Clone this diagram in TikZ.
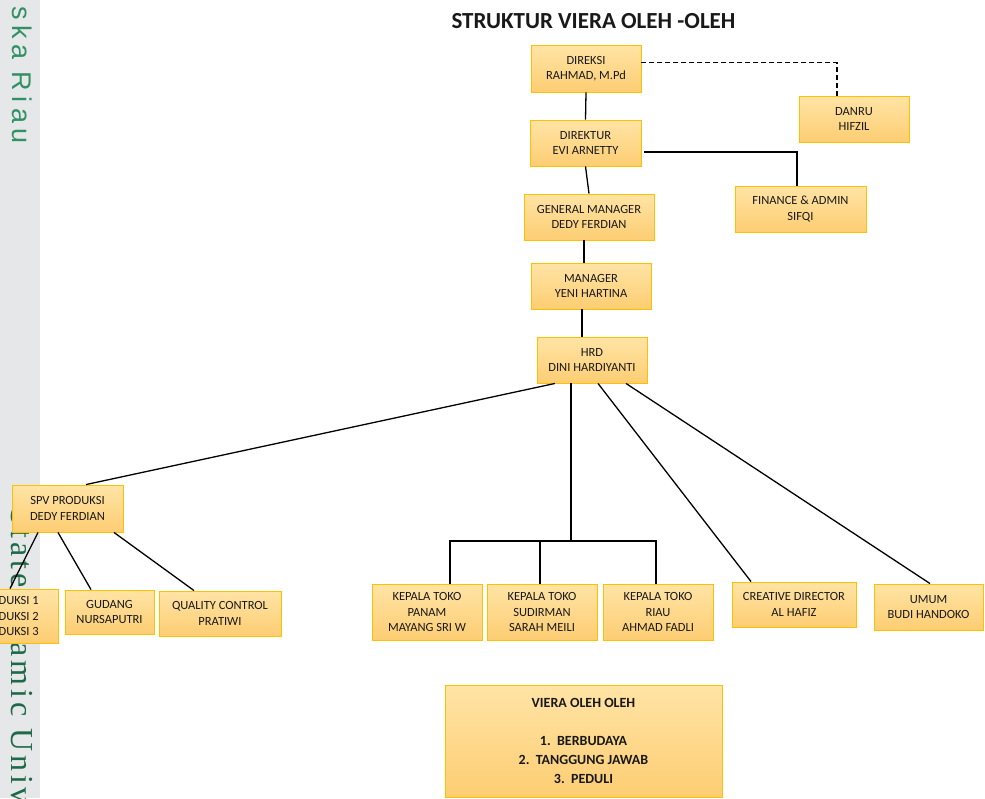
\documentclass[tikz,border=0pt]{standalone}
\usepackage{fontspec}
\setmainfont{Carlito}
\newfontfamily\wmsans[LetterSpace=20]{Liberation Sans}
\newfontfamily\wmserif[LetterSpace=12]{Liberation Serif}
\usetikzlibrary{calc}
\definecolor{boxtop}{RGB}{255,228,165}
\definecolor{boxbot}{RGB}{253,205,115}
\definecolor{boxline}{RGB}{255,192,0}
\definecolor{txt}{RGB}{25,25,25}
\definecolor{stripc}{RGB}{230,231,232}
\definecolor{wmgreenA}{RGB}{50,145,100}
\definecolor{wmgreenB}{RGB}{30,105,72}
\begin{document}
\begin{tikzpicture}[x=1pt,y=-1pt,
  box/.style={draw=boxline, line width=0.9pt, top color=boxtop, bottom color=boxbot,
    align=center, inner sep=0pt, text=txt, font=\fontsize{12.5}{15.5}\selectfont},
  conn/.style={line width=1.3pt, black},
  wmtext/.style={rotate=-90, anchor=west, inner sep=0pt}]
\useasboundingbox (0,0) rectangle (985,798);
\clip (0,0) rectangle (985,798);
\fill[white] (0,0) rectangle (985,798);
% left watermark strip
\fill[stripc] (0,0) rectangle (40,798);
\node[wmtext, text=wmgreenA, font=\wmsans\fontsize{27}{27}\selectfont] (wm1) at (22,6) {ska Riau};
\node[wmtext, text=wmgreenB, font=\wmserif\fontsize{32}{32}\selectfont] (wm2) at (22,508) {State Islamic Univ};

% title
\node[font=\bfseries\fontsize{23}{26}\selectfont, text=txt] (title) at (593.5,21) {STRUKTUR VIERA OLEH -OLEH};

% boxes
\node[box, minimum width=110pt, minimum height=47pt] (direksi) at (586,68.5) {DIREKSI\\RAHMAD, M.Pd};
\node[box, minimum width=111pt, minimum height=46pt] (direktur) at (585.5,143) {DIREKTUR\\EVI ARNETTY};
\node[box, minimum width=130pt, minimum height=46pt] (gm) at (589,217) {GENERAL MANAGER\\DEDY FERDIAN};
\node[box, minimum width=110pt, minimum height=46pt] (danru) at (854,119) {DANRU\\HIFZIL};
\node[box, minimum width=131pt, minimum height=46pt] (finance) at (800.5,209) {FINANCE \& ADMIN\\SIFQI};
\node[box, minimum width=120pt, minimum height=46pt] (manager) at (591,286) {MANAGER\\YENI HARTINA};
\node[box, minimum width=110pt, minimum height=46pt] (hrd) at (592,360) {HRD\\DINI HARDIYANTI};
\node[box, minimum width=111pt, minimum height=47pt] (spv) at (67.5,508.5) {SPV PRODUKSI\\DEDY FERDIAN};
\node[box, minimum width=100pt, minimum height=54pt] (produksi) at (8,616) {PRODUKSI 1\\PRODUKSI 2\\PRODUKSI 3};
\node[box, minimum width=89pt, minimum height=44pt] (gudang) at (109.5,612) {GUDANG\\NURSAPUTRI};
\node[box, minimum width=122pt, minimum height=45pt] (qc) at (220,613.5) {QUALITY CONTROL\\PRATIWI};
\node[box, minimum width=110pt, minimum height=56pt] (kt1) at (427,612) {KEPALA TOKO\\PANAM\\MAYANG SRI W};
\node[box, minimum width=110pt, minimum height=56pt] (kt2) at (542,612) {KEPALA TOKO\\SUDIRMAN\\SARAH MEILI};
\node[box, minimum width=110pt, minimum height=56pt] (kt3) at (658,612) {KEPALA TOKO\\RIAU\\AHMAD FADLI};
\node[box, minimum width=124pt, minimum height=45pt] (cd) at (794,604.5) {CREATIVE DIRECTOR\\AL HAFIZ};
\node[box, minimum width=109pt, minimum height=46pt] (umum) at (928.5,607) {UMUM\\BUDI HANDOKO};
\node[box, minimum width=277pt, minimum height=112pt,
  font=\bfseries\fontsize{14}{19}\selectfont] (viera) at (583.5,741)
  {VIERA OLEH OLEH\\[19pt]1.\ \ BERBUDAYA\\2.\ \ TANGGUNG JAWAB\\3.\ \ PEDULI};

% connectors top
\draw[conn] (direksi.south) -- (direktur.north);
\draw[conn] (direktur.south) -- (gm.north);
\draw[conn] ([xshift=-5pt]gm.south) -- ([xshift=-7pt]manager.north);
\draw[conn] ([xshift=-9pt]manager.south) -- ([xshift=-10pt]hrd.north);
\draw[conn, dashed, dash pattern=on 5pt off 3pt] ([yshift=6pt]direksi.east) -| ([xshift=-17pt]danru.north);
\draw[conn] ([xshift=3pt,yshift=-9pt]direktur.east) -| ([xshift=-3.5pt]finance.north);

% HRD branches
\draw[conn] ([xshift=-37pt]hrd.south) -- ([xshift=18.5pt]spv.north);
\coordinate (bus) at (571,541);
\draw[conn] ([xshift=-21pt]hrd.south) -- (bus);
\coordinate (d1) at ([xshift=23pt]kt1.north);
\coordinate (d2) at ([xshift=-2pt]kt2.north);
\coordinate (d3) at ([xshift=-2pt]kt3.north);
\draw[conn] (d1) |- (bus) -| (d3);
\draw[conn] (d2) -- (d2 |- bus);
\draw[conn] ([xshift=6pt]hrd.south) -- ([xshift=-43pt]cd.north);
\draw[conn] ([xshift=34pt]hrd.south) -- ([xshift=1.5pt]umum.north);

% SPV branches
\draw[conn] ([xshift=-29.5pt]spv.south) -- ([xshift=2pt]produksi.north);
\draw[conn] ([xshift=-9.5pt]spv.south) -- ([xshift=-18.5pt]gudang.north);
\draw[conn] ([xshift=46.5pt]spv.south) -- ([xshift=-26pt]qc.north);
\end{tikzpicture}
\end{document}
